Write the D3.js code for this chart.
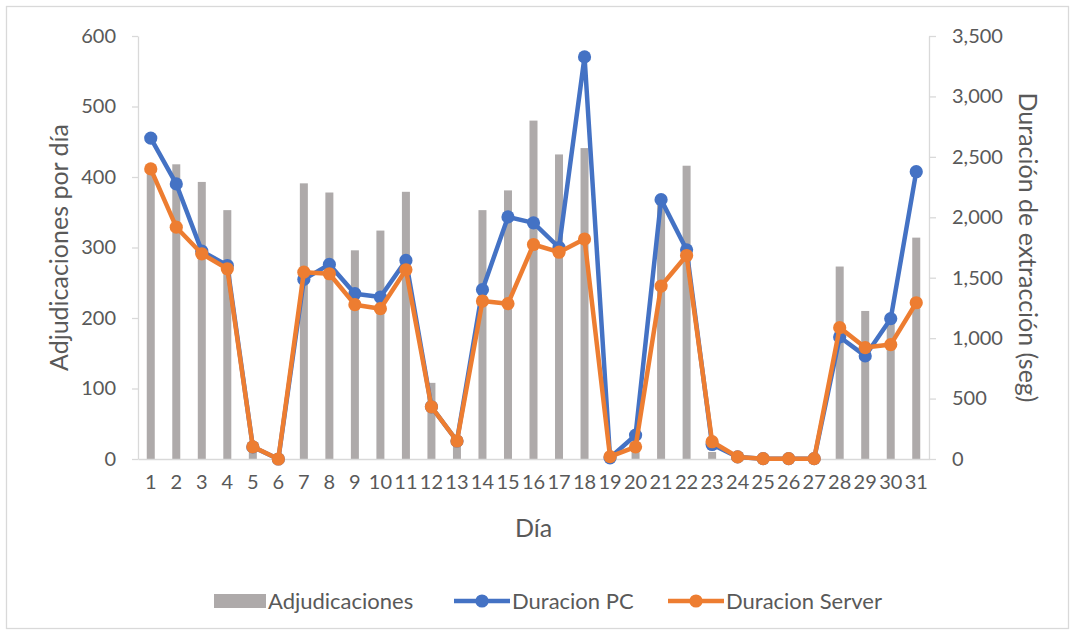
<!DOCTYPE html>
<html lang="es">
<head>
<meta charset="utf-8">
<title>Adjudicaciones y duración</title>
<script src="https://d3js.org/d3.v7.min.js"></script>
<style>
  body { margin: 0; background: #fff; }
  text { font-family: Lato, "Open Sans", sans-serif; fill: #595959; }
  .tick text { font-size: 20px; }
  .axis-title { font-size: 25px; }
  .legend text { font-size: 22px; }
</style>
</head>
<body>
<script>
// datos
const dias = d3.range(1, 32).map(String);
const adjudicaciones = [405, 418, 393, 353, 15, 2, 391, 378, 296, 324, 379, 108, 22, 353, 381, 480, 432, 441, 3, 15, 365, 416, 10, 0, 0, 0, 0, 273, 210, 201, 314];
const duracionPC = [2655, 2276, 1720, 1601, 100, 0, 1486, 1610, 1368, 1340, 1643, 432, 149, 1401, 2003, 1954, 1750, 3327, 10, 198, 2146, 1731, 120, 17, 3, 3, 3, 1010, 853, 1161, 2377];
const duracionServer = [2400, 1918, 1698, 1574, 101, 0, 1546, 1533, 1277, 1244, 1566, 432, 149, 1307, 1285, 1775, 1711, 1820, 19, 101, 1431, 1684, 143, 17, 3, 3, 3, 1087, 922, 947, 1293];
const ticksIzq = [0, 100, 200, 300, 400, 500, 600];
const ticksDer = [0, 500, 1000, 1500, 2000, 2500, 3000, 3500];

const W = 1075, H = 635;
const m = { left: 138, right: 1075 - 929, top: 36, bottom: 635 - 459 };

const svg = d3.select("body").append("svg")
  .attr("width", W).attr("height", H);

// marco del grafico
svg.append("rect")
  .attr("x", 6.5).attr("y", 6.5)
  .attr("width", 1062).attr("height", 622)
  .attr("fill", "#fff").attr("stroke", "#D9D9D9").attr("stroke-width", 1.3);

const x = d3.scaleBand().domain(dias).range([m.left, W - m.right]);
const yL = d3.scaleLinear().domain([0, 600]).range([H - m.bottom, m.top]);
const yR = d3.scaleLinear().domain([0, 3500]).range([H - m.bottom, m.top]);

// barras
svg.append("g").selectAll("rect")
  .data(adjudicaciones)
  .join("rect")
  .attr("x", (d, i) => x(dias[i]) + x.bandwidth() / 2 - 4)
  .attr("width", 8)
  .attr("y", d => yL(d))
  .attr("height", d => yL(0) - yL(d))
  .attr("fill", "#AEAAAA");

// ejes
const ejeIzq = svg.append("g")
  .attr("transform", `translate(${m.left},0)`)
  .call(d3.axisLeft(yL).tickValues(ticksIzq).tickSize(6).tickPadding(16).tickSizeOuter(0));
const ejeDer = svg.append("g")
  .attr("transform", `translate(${W - m.right},0)`)
  .call(d3.axisRight(yR).tickValues(ticksDer).tickSize(7).tickPadding(16).tickSizeOuter(0)
    .tickFormat(d3.format(",")));
const ejeX = svg.append("g")
  .attr("transform", `translate(0,${H - m.bottom})`)
  .call(d3.axisBottom(x).tickSize(0).tickPadding(16));

[ejeIzq, ejeDer, ejeX].forEach(g => {
  g.selectAll("path.domain").attr("stroke", "#D9D9D9").attr("stroke-width", 1.3);
  g.selectAll(".tick line").attr("stroke", "#D9D9D9").attr("stroke-width", 1.3);
  g.selectAll(".tick text").attr("fill", "#595959").style("font-family", "Lato, sans-serif");
});

// lineas
function serie(vals, color) {
  const pts = vals.map((v, i) => [x(dias[i]) + x.bandwidth() / 2, yR(v)]);
  svg.append("path")
    .attr("d", d3.line()(pts))
    .attr("fill", "none").attr("stroke", color)
    .attr("stroke-width", 4.5).attr("stroke-linejoin", "round");
  svg.append("g").selectAll("circle")
    .data(pts).join("circle")
    .attr("cx", d => d[0]).attr("cy", d => d[1])
    .attr("r", 6.6).attr("fill", color);
}
serie(duracionPC, "#4472C4");
serie(duracionServer, "#ED7D31");

// titulos de ejes
const cy = (yL(0) + yL(600)) / 2;
svg.append("text").attr("class", "axis-title")
  .attr("transform", `translate(68,${cy}) rotate(-90)`)
  .attr("text-anchor", "middle")
  .text("Adjudicaciones por día");
svg.append("text").attr("class", "axis-title")
  .attr("transform", `translate(1019,${cy}) rotate(90)`)
  .attr("text-anchor", "middle")
  .text("Duración de extracción (seg)");
svg.append("text").attr("class", "axis-title")
  .attr("x", (m.left + W - m.right) / 2).attr("y", 537)
  .attr("text-anchor", "middle")
  .text("Día");

// leyenda
const leg = svg.append("g").attr("class", "legend");
leg.append("rect").attr("x", 214).attr("y", 594).attr("width", 52).attr("height", 14).attr("fill", "#AEAAAA");
leg.append("text").attr("x", 268).attr("y", 609).text("Adjudicaciones");
[["Duracion PC", "#4472C4", 454], ["Duracion Server", "#ED7D31", 668]].forEach(([nombre, color, x0]) => {
  leg.append("line").attr("x1", x0).attr("x2", x0 + 56).attr("y1", 601).attr("y2", 601)
    .attr("stroke", color).attr("stroke-width", 4.5);
  leg.append("circle").attr("cx", x0 + 28).attr("cy", 601).attr("r", 6.6).attr("fill", color);
  leg.append("text").attr("x", x0 + 58).attr("y", 609).text(nombre);
});
</script>
</body>
</html>
